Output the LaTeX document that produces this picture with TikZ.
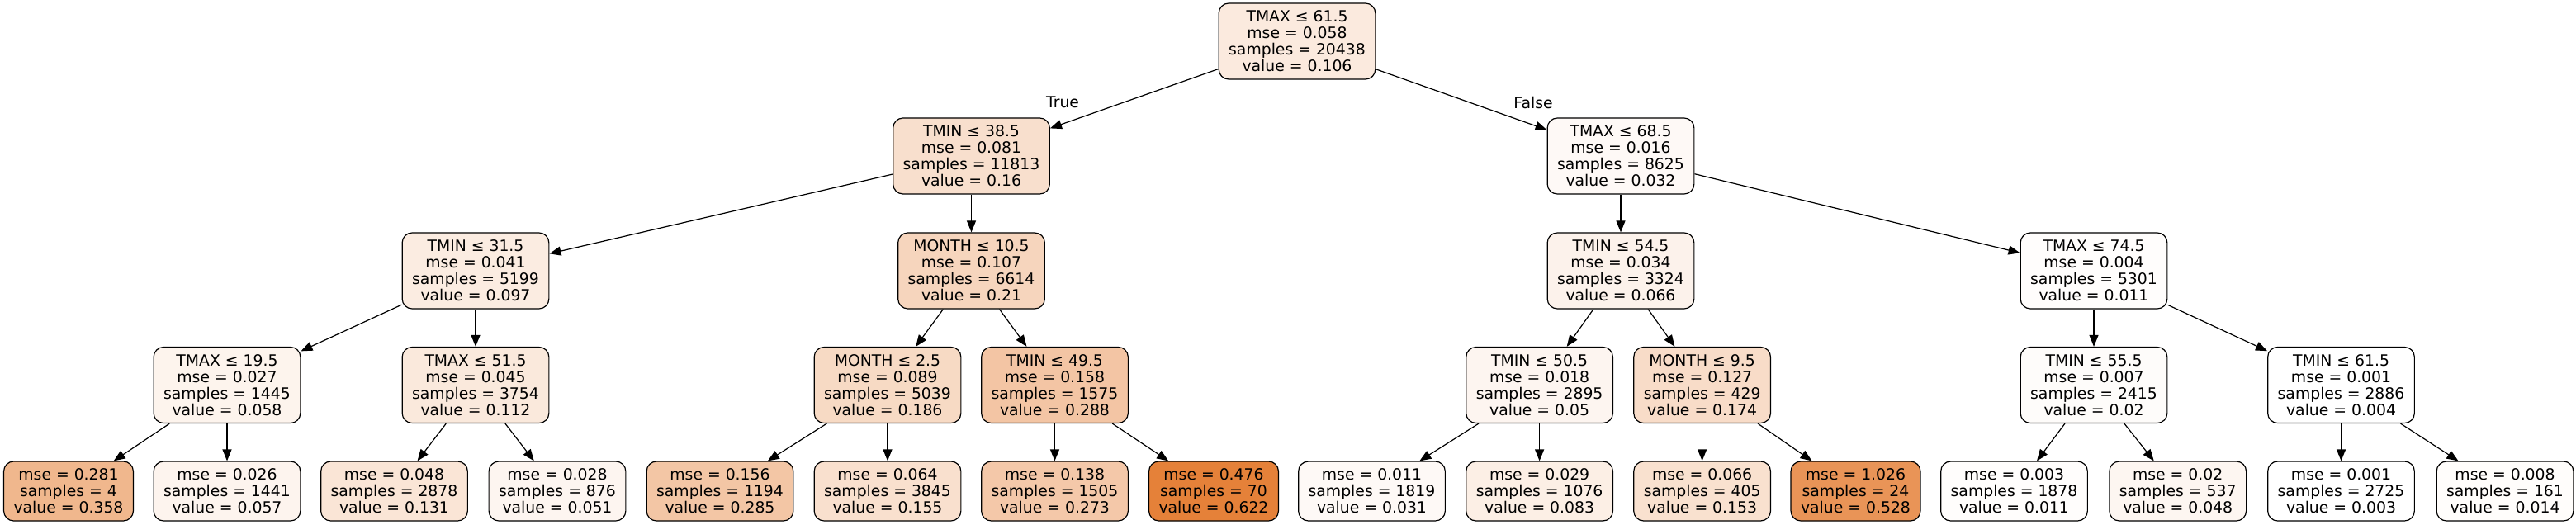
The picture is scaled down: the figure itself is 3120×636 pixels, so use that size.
\documentclass[tikz,border=0pt]{standalone}
\usepackage{fontspec}
\setmainfont{DejaVu Sans}
\usetikzlibrary{arrows.meta}
\definecolor{tree}{RGB}{229,129,57}
\begin{document}
\begin{tikzpicture}[x=0.5pt,y=-0.5pt,
  every node/.style={font=\fontsize{9.4pt}{10pt}\selectfont},
  box/.style={draw=black, line width=0.6pt, rounded corners=6pt, align=center, inner xsep=6pt, inner ysep=0pt},
  inode/.style={box, minimum height=46pt},
  leaf/.style={box, minimum height=36pt},
  edge/.style={-{Triangle[length=7pt,width=5.5pt]}, line width=0.6pt, black},
  lbl/.style={inner sep=0pt}]
\useasboundingbox (0,0) rectangle (3120,636);
% level 0
\node[inode, fill=tree!16.6!white] (n0) at (1571,50) {TMAX ≤ 61.5\\mse = 0.058\\samples = 20438\\value = 0.106};
% level 1
\node[inode, fill=tree!25.4!white] (n1) at (1176.5,189) {TMIN ≤ 38.5\\mse = 0.081\\samples = 11813\\value = 0.16};
\node[inode, fill=tree!4.7!white] (n2) at (1963,189) {TMAX ≤ 68.5\\mse = 0.016\\samples = 8625\\value = 0.032};
% level 2
\node[inode, fill=tree!15.2!white] (n3) at (576,328) {TMIN ≤ 31.5\\mse = 0.041\\samples = 5199\\value = 0.097};
\node[inode, fill=tree!33.4!white] (n4) at (1176.5,328) {MONTH ≤ 10.5\\mse = 0.107\\samples = 6614\\value = 0.21};
\node[inode, fill=tree!10.2!white] (n5) at (1963,328) {TMIN ≤ 54.5\\mse = 0.034\\samples = 3324\\value = 0.066};
\node[inode, fill=tree!1.3!white] (n6) at (2536,328) {TMAX ≤ 74.5\\mse = 0.004\\samples = 5301\\value = 0.011};
% level 3
\node[inode, fill=tree!8.9!white] (n7) at (275,466.5) {TMAX ≤ 19.5\\mse = 0.027\\samples = 1445\\value = 0.058};
\node[inode, fill=tree!17.6!white] (n8) at (576,466.5) {TMAX ≤ 51.5\\mse = 0.045\\samples = 3754\\value = 0.112};
\node[inode, fill=tree!29.6!white] (n9) at (1075,466.5) {MONTH ≤ 2.5\\mse = 0.089\\samples = 5039\\value = 0.186};
\node[inode, fill=tree!46.0!white] (n10) at (1277.5,466.5) {TMIN ≤ 49.5\\mse = 0.158\\samples = 1575\\value = 0.288};
\node[inode, fill=tree!7.6!white] (n11) at (1864.6,466.5) {TMIN ≤ 50.5\\mse = 0.018\\samples = 2895\\value = 0.05};
\node[inode, fill=tree!27.6!white] (n12) at (2061.6,466.5) {MONTH ≤ 9.5\\mse = 0.127\\samples = 429\\value = 0.174};
\node[inode, fill=tree!2.7!white] (n13) at (2536,466.5) {TMIN ≤ 55.5\\mse = 0.007\\samples = 2415\\value = 0.02};
\node[inode, fill=tree!0.2!white] (n14) at (2835.5,466.5) {TMIN ≤ 61.5\\mse = 0.001\\samples = 2886\\value = 0.004};
% leaves
\node[leaf, fill=tree!57.4!white] (l1) at (83,595) {mse = 0.281\\samples = 4\\value = 0.358};
\node[leaf, fill=tree!8.7!white] (l2) at (275,595) {mse = 0.026\\samples = 1441\\value = 0.057};
\node[leaf, fill=tree!20.7!white] (l3) at (477.5,595) {mse = 0.048\\samples = 2878\\value = 0.131};
\node[leaf, fill=tree!7.8!white] (l4) at (675,595) {mse = 0.028\\samples = 876\\value = 0.051};
\node[leaf, fill=tree!45.6!white] (l5) at (872,595) {mse = 0.156\\samples = 1194\\value = 0.285};
\node[leaf, fill=tree!24.6!white] (l6) at (1075,595) {mse = 0.064\\samples = 3845\\value = 0.155};
\node[leaf, fill=tree!43.6!white] (l7) at (1277.5,595) {mse = 0.138\\samples = 1505\\value = 0.273};
\node[leaf, fill=tree] (l8) at (1470,595) {mse = 0.476\\samples = 70\\value = 0.622};
\node[leaf, fill=tree!4.5!white] (l9) at (1661.5,595) {mse = 0.011\\samples = 1819\\value = 0.031};
\node[leaf, fill=tree!12.9!white] (l10) at (1864.6,595) {mse = 0.029\\samples = 1076\\value = 0.083};
\node[leaf, fill=tree!24.2!white] (l11) at (2061.6,595) {mse = 0.066\\samples = 405\\value = 0.153};
\node[leaf, fill=tree!84.8!white] (l12) at (2247.5,595) {mse = 1.026\\samples = 24\\value = 0.528};
\node[leaf, fill=tree!1.3!white] (l13) at (2439.5,595) {mse = 0.003\\samples = 1878\\value = 0.011};
\node[leaf, fill=tree!7.3!white] (l14) at (2637.7,595) {mse = 0.02\\samples = 537\\value = 0.048};
\node[leaf, fill=white] (l15) at (2835.5,595) {mse = 0.001\\samples = 2725\\value = 0.003};
\node[leaf, fill=tree!1.8!white] (l16) at (3034,595) {mse = 0.008\\samples = 161\\value = 0.014};
% edge labels
\node[lbl] (tl) at (1287,124) {True};
\node[lbl] (fl) at (1857,124) {False};
% edges
\draw[edge] (n0) -- (n1);
\draw[edge] (n0) -- (n2);
\draw[edge] (n1) -- (n3);
\draw[edge] (n1) -- (n4);
\draw[edge] (n2) -- (n5);
\draw[edge] (n2) -- (n6);
\draw[edge] (n3) -- (n7);
\draw[edge] (n3) -- (n8);
\draw[edge] (n4) -- (n9);
\draw[edge] (n4) -- (n10);
\draw[edge] (n5) -- (n11);
\draw[edge] (n5) -- (n12);
\draw[edge] (n6) -- (n13);
\draw[edge] (n6) -- (n14);
\draw[edge] (n7) -- (l1);
\draw[edge] (n7) -- (l2);
\draw[edge] (n8) -- (l3);
\draw[edge] (n8) -- (l4);
\draw[edge] (n9) -- (l5);
\draw[edge] (n9) -- (l6);
\draw[edge] (n10) -- (l7);
\draw[edge] (n10) -- (l8);
\draw[edge] (n11) -- (l9);
\draw[edge] (n11) -- (l10);
\draw[edge] (n12) -- (l11);
\draw[edge] (n12) -- (l12);
\draw[edge] (n13) -- (l13);
\draw[edge] (n13) -- (l14);
\draw[edge] (n14) -- (l15);
\draw[edge] (n14) -- (l16);
\end{tikzpicture}
\end{document}
